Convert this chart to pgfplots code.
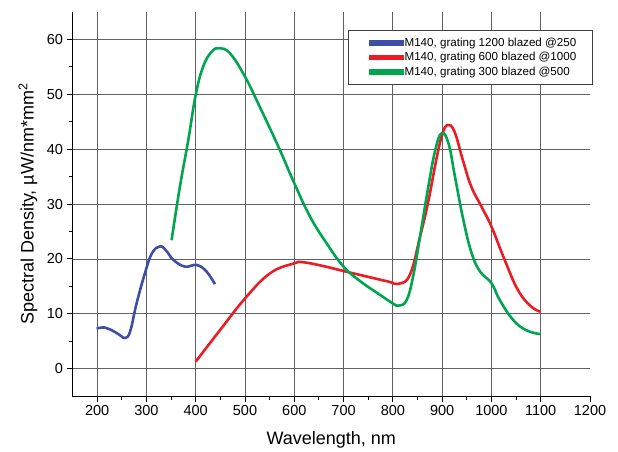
\documentclass[border=0pt]{standalone}
\usepackage{pgfplots}
\pgfplotsset{compat=1.18}
\usepackage{fontspec}
\setmainfont{Liberation Sans}
\definecolor{cblue}{RGB}{61,78,166}
\definecolor{cred}{RGB}{237,28,36}
\definecolor{cgreen}{RGB}{0,165,80}
\begin{document}
\begin{tikzpicture}
\useasboundingbox (0,0) rectangle (618pt,452pt);
\begin{axis}[
  at={(72.5pt,55.8pt)}, anchor=south west,
  scale only axis, width=517.5pt, height=384.3pt,
  xmin=150, xmax=1200, ymin=-5, ymax=65,
  axis lines=left, axis line style={-, line width=1pt, black},
  xtick={200,300,...,1100}, extra x ticks={1200}, extra x tick style={grid=none},
  ytick={0,10,...,60},
  minor x tick num=1, minor y tick num=1,
  tick align=outside,
  major tick length=6pt, minor tick length=4pt,
  tick style={black, line width=0.9pt},
  grid=major,
  major grid style={black!62, line width=0.8pt},
  /pgf/number format/assume math mode=true,
  /pgf/number format/1000 sep={},
  tick label style={font=\fontsize{14.5}{16}\selectfont},
  xlabel={Wavelength, nm},
  ylabel={Spectral Density, µW/nm*mm\textsuperscript{2}},
  every axis x label/.style={at={(axis description cs:0.5,-0.114)}, anchor=center, font=\fontsize{18}{20}\selectfont},
  every axis y label/.style={at={(axis description cs:-0.086,0.5)}, anchor=center, rotate=90, font=\fontsize{18}{20}\selectfont},
  legend image code/.code={\path (0pt,0pt); \fill[#1] (6pt,-1.3pt) rectangle (38pt,1.3pt);},
  legend cell align=left,
  legend style={at={(rel axis cs:0.532,0.953)}, anchor=north west,
    draw=black!75, fill=white, inner xsep=15pt, inner ysep=5.5pt,
    font=\fontsize{11.6}{13}\selectfont, row sep=0pt,
    nodes={inner xsep=1pt, inner ysep=1.5pt, text height=9pt, text depth=2.5pt}},
]
\addplot[cblue, line width=2.6pt, smooth, tension=0.7] coordinates {
 (199,7.3) (216,7.5) (236,6.7) (248,6.0) (257,5.6) (267,6.8) (280,11.9) (297,17.4) (311,21.0)
 (328,22.3) (342,21.3) (355,19.8) (378,18.6) (402,18.9) (422,17.7) (439,15.4)
};
\addlegendentry{M140, grating 1200 blazed @250}
\addplot[cred, line width=2.6pt, smooth, tension=0.7] coordinates {
 (400,1.3) (449,7.0) (500,12.8) (551,17.4) (600,19.2) (618,19.4) (659,18.7)
 (700,17.8) (747,16.8) (790,15.9) (813,15.5) (835,17.2) (855,24.0) (871,30.1)
 (888,38.0) (900,42.6) (911,44.4) (925,43.2) (942,38.0) (959,33.2) (980,29.5)
 (1000,25.9) (1027,19.8) (1054,14.3) (1081,11.3) (1100,10.4)
};
\addlegendentry{M140, grating 600 blazed @1000}
\addplot[cgreen, line width=2.6pt, smooth, tension=0.7] coordinates {
 (351,23.4) (368,33.2) (385,41.7) (400,49.9) (415,55.0) (432,57.7) (448,58.4)
 (470,57.4) (500,53.2) (530,47.7) (568,40.4) (600,33.8) (632,27.7) (666,22.8)
 (700,18.6) (733,16.0) (775,13.4) (800,11.9) (812,11.5) (828,12.5) (841,16.8)
 (855,24.0) (872,33.2) (886,39.8) (899,42.9) (913,41.0) (926,35.0) (943,27.1)
 (960,21.0) (977,17.7) (1000,15.6) (1017,12.5) (1044,8.9) (1071,7.0) (1100,6.3)
};
\addlegendentry{M140, grating 300 blazed @500}
\end{axis}
\end{tikzpicture}
\end{document}
